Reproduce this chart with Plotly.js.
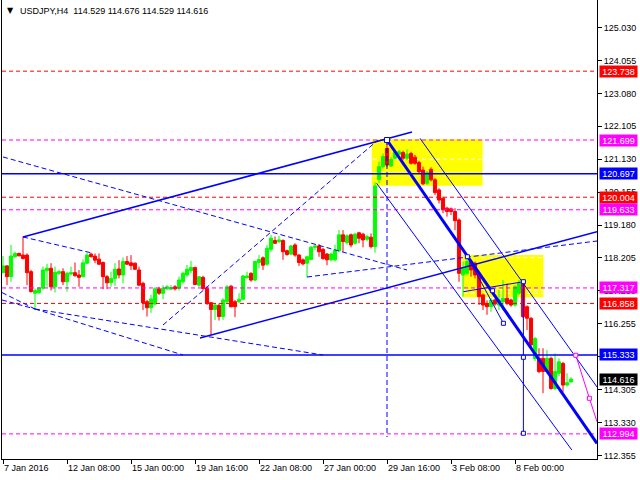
<!DOCTYPE html>
<html><head><meta charset="utf-8">
<script src="https://cdn.plot.ly/plotly-3.0.1.min.js"></script>
<style>html,body{margin:0;padding:0;background:#fff}#chart{width:640px;height:480px}</style>
</head><body><div id="chart"></div>
<script>
// ---- H4 candles (bar index 0 = 7 Jan 2016) ----
const openP = [117.77,117.97,117.65,118.24,118.34,118.29,118.29,117.80,117.16,117.18,
117.31,117.83,117.90,117.35,117.75,117.80,117.50,117.73,117.77,117.70,
117.65,118.05,118.32,118.26,118.17,118.07,117.65,117.47,117.60,117.88,
117.70,118.10,118.06,118.05,117.85,117.45,116.91,116.73,116.84,117.29,
117.16,117.29,117.28,117.35,117.31,117.50,117.70,117.83,117.92,117.40,
117.63,117.30,116.88,116.68,116.80,116.47,116.91,117.37,116.91,116.91,
116.98,117.62,117.75,117.55,118.07,118.21,118.02,118.46,118.72,118.69,
118.72,118.42,118.32,118.59,118.29,118.15,118.05,118.16,118.52,118.56,
118.46,118.32,118.15,118.15,118.42,118.89,118.66,118.89,118.64,118.95,
118.91,118.76,118.82,118.54,120.53,120.91,121.45,120.93,121.16,121.28,
121.33,121.16,121.30,121.19,121.03,120.81,120.42,120.83,120.52,120.22,
119.97,119.68,119.66,119.58,119.33,117.70,117.75,118.10,118.05,117.75,
117.11,116.86,116.76,116.96,116.81,116.91,117.01,116.96,116.81,117.16,
117.45,116.76,116.42,115.23,115.23,115.23,114.84,115.23,114.34,114.79,
115.08,114.44,114.529];
const highP = [118.26,117.99,118.59,118.39,118.36,118.84,118.34,117.85,117.30,117.35,
117.95,118.03,118.05,117.95,117.85,117.90,117.80,117.95,118.07,117.85,
118.16,118.36,118.36,118.34,118.34,118.10,117.70,117.80,118.05,118.14,
118.22,118.26,118.29,118.07,117.95,117.50,116.96,117.11,117.35,117.35,
117.40,117.40,117.40,117.40,117.65,117.80,118.00,118.12,117.95,117.67,
117.68,117.37,116.90,116.86,116.85,117.01,117.40,117.40,116.96,117.16,
117.70,117.80,117.78,118.12,118.29,118.25,118.59,118.89,118.84,118.86,
118.76,118.45,118.59,118.64,118.32,118.19,118.27,118.56,118.59,118.62,
118.50,118.35,118.36,118.59,119.03,119.03,118.91,118.93,118.95,118.98,
118.95,118.89,118.93,120.45,121.06,121.30,121.70,121.20,121.40,121.40,
121.38,121.42,121.35,121.26,121.08,120.91,120.78,120.89,120.57,120.27,
120.02,119.72,119.70,119.68,119.38,118.10,118.20,118.15,118.10,117.80,
117.15,116.95,117.02,117.00,117.26,117.55,117.45,117.00,117.40,117.55,
117.50,116.80,116.45,115.87,115.53,115.53,115.48,115.28,115.38,115.23,
115.13,114.79,114.676];
const lowP = [117.75,117.40,117.50,118.22,118.25,118.16,117.40,117.18,116.68,117.14,
117.26,117.35,117.24,117.18,117.70,117.40,117.21,117.70,117.65,117.35,
117.63,118.03,118.22,118.05,118.00,117.28,117.28,117.35,117.37,117.60,
117.45,118.00,117.85,117.85,117.37,116.66,116.47,116.58,116.81,117.11,
116.98,117.26,117.26,117.24,117.24,117.45,117.65,117.75,117.40,117.35,
117.25,116.81,115.92,116.37,116.35,116.37,116.86,116.74,116.45,116.86,
116.96,117.60,117.50,117.52,117.90,117.85,117.97,118.39,118.62,118.64,
118.15,118.27,118.29,118.24,117.97,117.99,117.63,118.15,118.44,118.24,
118.15,117.99,118.10,118.10,118.39,118.39,118.60,118.52,118.60,118.64,
118.52,118.70,118.49,118.36,120.42,120.86,120.90,120.90,121.13,121.25,
121.10,121.10,120.97,120.96,120.71,120.37,120.37,120.47,120.07,119.82,
119.53,119.43,119.48,119.03,117.50,117.06,117.70,117.65,117.60,116.81,
116.66,116.52,116.61,116.79,116.66,116.66,116.81,116.76,116.76,117.11,
116.42,116.07,115.55,115.15,114.79,114.20,114.79,114.30,114.29,114.70,
114.24,114.40,114.529];
const closeP = [117.97,117.65,118.26,118.34,118.27,118.19,117.77,117.21,117.24,117.31,
117.85,117.90,117.35,117.78,117.80,117.50,117.75,117.77,117.68,117.63,
118.06,118.29,118.24,118.14,118.02,117.65,117.47,117.60,117.87,117.70,
118.10,118.02,117.98,117.87,117.40,116.88,116.73,116.99,117.29,117.16,
117.31,117.35,117.33,117.29,117.55,117.75,117.87,117.92,117.42,117.65,
117.30,116.86,116.68,116.81,116.47,116.96,117.35,116.76,116.76,116.98,
117.67,117.67,117.55,118.10,118.16,117.99,118.49,118.79,118.64,118.74,
118.39,118.31,118.56,118.29,118.07,118.03,118.24,118.52,118.56,118.39,
118.19,118.15,118.32,118.44,118.89,118.69,118.86,118.59,118.91,118.79,
118.74,118.84,118.54,120.34,120.91,121.21,120.96,121.13,121.33,121.35,
121.16,121.28,121.01,121.01,120.76,120.40,120.73,120.52,120.14,119.92,
119.63,119.58,119.58,119.31,117.75,117.92,118.10,117.85,117.70,117.06,
116.81,116.76,116.96,116.84,116.96,117.01,116.86,116.81,117.35,117.45,
116.47,116.42,115.63,115.82,114.84,114.84,115.23,114.34,114.84,115.13,
114.44,114.51,114.616];

// ---- axes ----
const xTickBars = [0,16,32,48,64,80,96,112,128];
const xTickLabels = ['7 Jan 2016','12 Jan 08:00','15 Jan 00:00','19 Jan 16:00','22 Jan 08:00','27 Jan 00:00','29 Jan 16:00','3 Feb 08:00','8 Feb 00:00'];
const yTicks = [125.030,124.055,123.080,122.105,121.130,120.155,119.180,118.205,117.230,116.255,115.280,114.305,113.330,112.355];

// ---- horizontal levels ----
const redLevels = [123.738, 120.004, 116.858];
const magentaLevels = [121.699, 119.633, 117.317, 112.994];
const blueLevels = [120.697, 115.333];
const lastPrice = 114.616;
const titleText = 'USDJPY,H4\u00a0\u00a0114.529 114.676 114.529 114.616';

// ---- drawn objects: [bar0, price0, bar1, price1] ----
const solidTrendLines = [[5,118.826,102.25,121.936],[49.25,115.834,148.5,118.983]];
const dashedTrendLines = [[0,121.196,101,117.848],[5,118.826,22.25,118.352],[-0.25,117.18,8,116.693],
  [-0.25,116.96,8,116.693],[8,116.693,80,115.331],[8,116.693,45,115.331],[40,116.219,93.75,121.699],
  [76,117.641,148.5,118.707],[96,121.699,96,112.90]];
const thickTrendLines = [[96,121.699,148.5,112.71]];
const thinTrendLines = [[104.25,121.749,148.5,114.383],[93.4,120.417,142.2,112.517],[116.1,118.242,125.1,116.27],
  [115.1,117.206,130.1,117.502],[130.1,117.502,130.1,113.012]];
const magentaPathBars = [143.2,146.6,148.5];
const magentaPathPrices = [115.322,114.048,113.355];
const blueSquareBars = [96,116.1,122.4,125.1,130.1,130.1,130.1];
const blueSquarePrices = [121.699,118.242,117.235,116.27,117.502,115.262,113.012];
const magentaSquareBars = [143.2,146.6];
const magentaSquarePrices = [115.322,114.048];
const yellowBoxes = [[92.2,121.72,119.9,120.345],[114.9,118.293,135.1,117.04]];
const whiteDashLines = [[92.5,121.127,119.6],[119.6,118.213,135.0],[115.2,117.256,135.0],[115.2,117.158,135.0]];

const BLUE='#0000ff', RED='#ff0000', MAG='#ff00ff', GREEN='#00ff00';
const shapes = [];
function seg(a, color, width, dash, layer){
  shapes.push({type:'line', xref:'x', yref:'y', x0:a[0], y0:a[1], x1:a[2], y1:a[3],
    line:{color:color, width:width, dash:dash||'solid'}, layer:layer||'above'});
}
yellowBoxes.forEach(b => shapes.push({type:'rect', xref:'x', yref:'y', x0:b[0], y0:b[1], x1:b[2], y1:b[3],
  fillcolor:'#ffff00', line:{width:0}, layer:'below'}));
whiteDashLines.forEach(w => seg([w[0],w[1],w[2],w[1]], '#ffffff', 1, '4px,3px', 'below'));
function hline(p, color, width, dash){
  shapes.push({type:'line', xref:'paper', yref:'y', x0:0, x1:1, y0:p, y1:p,
    line:{color:color, width:width, dash:dash}, layer:'above'});
}
redLevels.forEach(p => hline(p, RED, 1, '4px,3px'));
magentaLevels.forEach(p => hline(p, MAG, 1, '4px,3px'));
blueLevels.forEach(p => hline(p, BLUE, 1.5, 'solid'));
dashedTrendLines.forEach(a => seg(a, BLUE, 1, '5px,3px'));
solidTrendLines.forEach(a => seg(a, BLUE, 1.5));
thinTrendLines.forEach(a => seg(a, BLUE, 1));
thickTrendLines.forEach(a => seg(a, BLUE, 3));
for (let k = 0; k < magentaPathBars.length - 1; k++) {
  seg([magentaPathBars[k], magentaPathPrices[k], magentaPathBars[k+1], magentaPathPrices[k+1]], MAG, 1);
}
function square(xv, yv, color, half){
  shapes.push({type:'rect', xref:'x', yref:'y', xsizemode:'pixel', ysizemode:'pixel', xanchor:xv, yanchor:yv,
    x0:-half, x1:half, y0:-half, y1:half, fillcolor:'#ffffff', line:{color:color, width:1}, layer:'above'});
}
blueSquareBars.forEach((b, k) => square(b, blueSquarePrices[k], BLUE, k === 0 ? 2.5 : 2));
magentaSquareBars.forEach((b, k) => square(b, magentaSquarePrices[k], MAG, 2));

const annotations = [];
function levelLabel(p, bg){
  annotations.push({xref:'paper', yref:'y', x:1, y:p, xanchor:'left', yanchor:'middle', xshift:2,
    text:p.toFixed(3), showarrow:false, bgcolor:bg, borderpad:0, width:37, height:11,
    font:{family:'"Liberation Sans", Arial, sans-serif', size:9, color:'#ffffff'}});
}
redLevels.forEach(p => levelLabel(p, RED));
magentaLevels.forEach(p => levelLabel(p, MAG));
blueLevels.forEach(p => levelLabel(p, BLUE));
levelLabel(lastPrice, '#000000');
annotations.push({xref:'paper', yref:'paper', x:0, y:1, xanchor:'left', yanchor:'top', xshift:3, yshift:-4,
  text:'\u25BC', showarrow:false, font:{family:'DejaVu Sans', size:8, color:'#000'}});
annotations.push({xref:'paper', yref:'paper', x:0, y:1, xanchor:'left', yanchor:'top', xshift:16, yshift:-4,
  text:titleText, showarrow:false, font:{family:'"Liberation Sans", Arial, sans-serif', size:9, color:'#000'}});

const candle = {
  type:'candlestick', x:openP.map((_, i) => i), open:openP, high:highP, low:lowP, close:closeP,
  increasing:{line:{color:GREEN, width:1}, fillcolor:GREEN},
  decreasing:{line:{color:RED, width:1}, fillcolor:RED},
  whiskerwidth:0, hoverinfo:'skip', showlegend:false
};

const layout = {
  width:640, height:480, margin:{l:2, r:43, t:0, b:21},
  paper_bgcolor:'#ffffff', plot_bgcolor:'#ffffff', showlegend:false,
  boxgap:0.12, boxgroupgap:0.12,
  font:{family:'"Liberation Sans", Arial, sans-serif', size:9, color:'#000'},
  xaxis:{range:[-0.25,148.5], rangeslider:{visible:false}, showgrid:false, zeroline:false,
    showline:true, linecolor:'#000', linewidth:1, mirror:true, ticks:'outside', ticklen:4, tickcolor:'#000',
    tickmode:'array', tickvals:xTickBars, ticktext:xTickLabels, ticklabelposition:'outside right', fixedrange:true},
  yaxis:{range:[112.250,125.846], side:'right', showgrid:false, zeroline:false,
    showline:true, linecolor:'#000', linewidth:1, mirror:true, ticks:'outside', ticklen:4, tickcolor:'#000',
    tickmode:'array', tickvals:yTicks, ticktext:yTicks.map(v => v.toFixed(3)), fixedrange:true},
  shapes:shapes, annotations:annotations
};
Plotly.newPlot('chart', [candle], layout, {displayModeBar:false, staticPlot:true});
</script></body></html>
